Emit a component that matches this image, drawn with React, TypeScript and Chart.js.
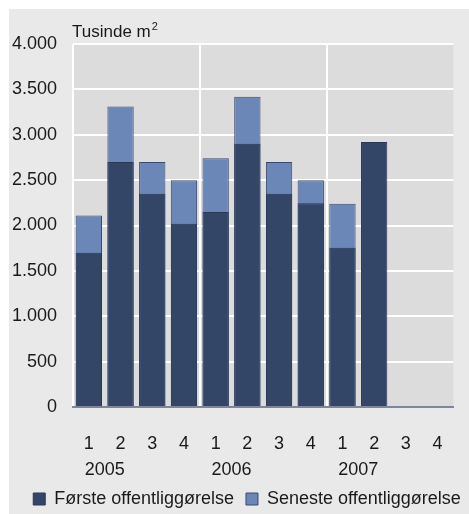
import React, { useEffect, useRef } from 'react';
import { Chart, registerables } from 'chart.js';

Chart.register(...registerables);

const quarters = ['1', '2', '3', '4', '1', '2', '3', '4', '1', '2', '3', '4'];
const years = ['2005', '2006', '2007'];
const forste = [1700, 2700, 2350, 2020, 2150, 2900, 2350, 2245, 1755, 2920, null, null];
const seneste = [2110, 3310, 2700, 2500, 2740, 3420, 2700, 2500, 2240, null, null, null];
const yMax = 4000;
const yStep = 500;
const unitTitle = 'Tusinde m';
const unitSup = '2';

// year labels sit on the boundary between quarter 1 and quarter 2 of each year
const yearSlots = Array.from({ length: quarters.length + 1 }, (_, i) =>
  i % 4 === 1 ? years[(i - 1) / 4] ?? '' : ''
);

const FONT = "'Liberation Sans', Arial, sans-serif";
const TEXT = '#1a1a1a';
const FS = 18;
const W = 460;
const H = 512;

const fmt = (v: number) => String(v).replace(/\B(?=(\d{3})+(?!\d))/g, '.');

const bgPlugin = {
  id: 'plotBg',
  afterLayout(chart: any) {
    const lg = chart.legend;
    if (lg) {
      lg.left += 8;
      lg.right += 8;
      lg.top -= 3;
      lg.bottom -= 3;
    }
  },
  beforeDraw(chart: any) {
    const { ctx, chartArea: a } = chart;
    ctx.save();
    ctx.fillStyle = '#dcdcdc';
    ctx.fillRect(a.left, a.top, a.right - a.left, a.bottom - a.top);
    ctx.restore();
  },
  afterDraw(chart: any) {
    const { ctx, chartArea: a } = chart;
    ctx.save();
    ctx.fillStyle = TEXT;
    ctx.textBaseline = 'alphabetic';
    ctx.textAlign = 'left';
    ctx.font = `17px ${FONT}`;
    const x = a.left - 1;
    const y = a.top - 7;
    ctx.fillText(unitTitle, x, y);
    const w = ctx.measureText(unitTitle).width;
    ctx.font = `11px ${FONT}`;
    ctx.fillText(unitSup, x + w + 1, y - 7);
    ctx.restore();
  },
};

export default function App() {
  const ref = useRef<HTMLCanvasElement | null>(null);
  useEffect(() => {
    if (!ref.current) return;
    const chart = new Chart(ref.current, {
      type: 'bar',
      data: {
        labels: quarters,
        datasets: [
          {
            label: 'Første offentliggørelse',
            data: forste,
            backgroundColor: '#344668',
            borderColor: '#2a3856',
            borderWidth: 1,
            order: 0,
            grouped: false,
            barPercentage: 0.83,
            categoryPercentage: 1,
          },
          {
            label: 'Seneste offentliggørelse',
            data: seneste,
            backgroundColor: '#6b87b8',
            borderColor: '#3a4a6c',
            borderWidth: 1,
            order: 1,
            grouped: false,
            barPercentage: 0.83,
            categoryPercentage: 1,
          },
        ] as any,
      },
      options: {
        responsive: false,
        animation: false,
        layout: { padding: { top: 35, right: 0, left: 0, bottom: 0 } },
        plugins: {
          tooltip: { enabled: false },
          legend: {
            position: 'bottom',
            labels: {
              boxWidth: 12,
              boxHeight: 12,
              padding: 12,
              color: TEXT,
              font: { family: FONT, size: FS },
            },
          },
        },
        scales: {
          x: {
            type: 'category',
            position: 'bottom',
            offset: true,
            grid: {
              color: (c: any) => (c.index % 4 === 0 ? '#ffffff' : 'rgba(0,0,0,0)'),
              lineWidth: 2,
              drawTicks: false,
            },
            border: { display: true, color: '#7c879b', width: 2 },
            ticks: { color: TEXT, font: { family: FONT, size: FS }, padding: 26, maxRotation: 0, autoSkip: false },
            afterFit: (s: any) => { s.height = 47; },
          },
          x2: {
            type: 'category',
            position: 'bottom',
            labels: yearSlots,
            offset: false,
            grid: { display: false, drawTicks: false },
            border: { display: false },
            ticks: {
              color: TEXT,
              font: { family: FONT, size: FS },
              padding: 5,
              autoSkip: false,
              maxRotation: 0,
            },
            afterFit: (s: any) => { s.height = 27; },
          },
          y: {
            min: 0,
            max: yMax,
            grid: {
              color: (c: any) => (c.tick && c.tick.value === 0 ? 'rgba(0,0,0,0)' : '#ffffff'),
              lineWidth: 2,
              drawTicks: false,
            },
            border: { display: false },
            ticks: {
              stepSize: yStep,
              color: TEXT,
              font: { family: FONT, size: FS },
              padding: 16,
              callback: (v: any) => fmt(Number(v)),
            },
            afterFit: (s: any) => { s.width = 64; },
          },
          yRight: {
            type: 'linear',
            position: 'right',
            grid: { display: false },
            border: { display: false },
            ticks: { display: false },
            afterFit: (s: any) => { s.width = 10; },
          },
        },
      } as any,
      plugins: [bgPlugin],
    });
    return () => chart.destroy();
  }, []);
  return (
    <div
      style={{
        position: 'fixed',
        left: 9,
        top: 9,
        width: W,
        height: 505,
        overflow: 'hidden',
        background: '#e9e9e9',
      }}
    >
      <canvas ref={ref} width={W} height={H} style={{ display: 'block' }} />
    </div>
  );
}
